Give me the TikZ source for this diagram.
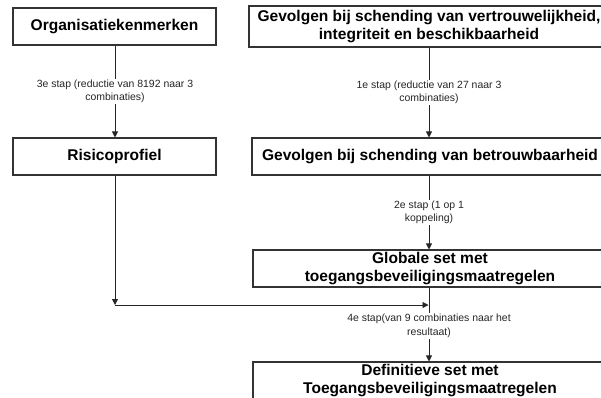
\documentclass[tikz,border=0pt]{standalone}
\usepackage{fontspec}
\setmainfont{Liberation Sans}
\usetikzlibrary{arrows.meta}
\begin{document}
\begin{tikzpicture}[x=1bp,y=-1bp,
  box/.style={draw=black!80,line width=1.1bp,rectangle,inner sep=0pt,
    align=center,font=\fontsize{15.6}{18}\selectfont\bfseries},
  conn/.style={draw=black!85,line width=0.8bp},
  tip/.style={-{Triangle[length=6bp,width=6bp]}},
  steplabel/.style={fill=white,inner sep=1bp,align=center,text=black!85,
    font=\fontsize{10.5}{13.5}\selectfont}]
  \useasboundingbox (0,0) rectangle (601,397);
  \clip (0,0) rectangle (601,397);

  % boxes
  \node[box,minimum width=203bp,minimum height=37bp] (org) at (114.5,26.5) {Organisatiekenmerken};
  \node[box,minimum width=360bp,minimum height=41bp] (cia) at (429,26.5)
    {Gevolgen bij schending van vertrouwelijkheid,\\integriteit en beschikbaarheid};
  \node[box,minimum width=203bp,minimum height=37bp] (risk) at (114.5,156.5) {Risicoprofiel};
  \node[box,minimum width=356bp,minimum height=37bp] (rel) at (430,156.5)
    {Gevolgen bij schending van betrouwbaarheid};
  \node[box,minimum width=354bp,minimum height=37bp] (glob) at (430,268.5)
    {Globale set met\\toegangsbeveiligingsmaatregelen};
  \node[box,minimum width=354bp,minimum height=37bp] (def) at (430,380.5)
    {Definitieve set met\\Toegangsbeveiligingsmaatregelen};

  % connectors
  \coordinate (bend) at (115,305);
  \coordinate (join) at (428.5,305);

  \draw[conn,tip] (org.south -| 115,0) -- node[steplabel]
    {3e stap (reductie van 8192 naar 3\\combinaties)} (risk.north -| 115,0);
  \draw[conn,tip] (cia.south -| 429,0) -- node[steplabel]
    {1e stap (reductie van 27 naar 3\\combinaties)} (rel.north -| 429,0);
  \draw[conn,tip] (rel.south -| 429,0) -- node[steplabel]
    {2e stap (1 op 1\\koppeling)} (glob.north -| 429,0);
  \draw[conn,tip] (glob.south -| 429,0) -- node[steplabel,pos=0.52]
    {4e stap(van 9 combinaties naar het\\resultaat)} (def.north -| 429,0);
  \draw[conn,tip] (risk.south -| 115,0) -- (bend);
  \draw[conn,tip] (bend) -- (join);
\end{tikzpicture}
\end{document}
